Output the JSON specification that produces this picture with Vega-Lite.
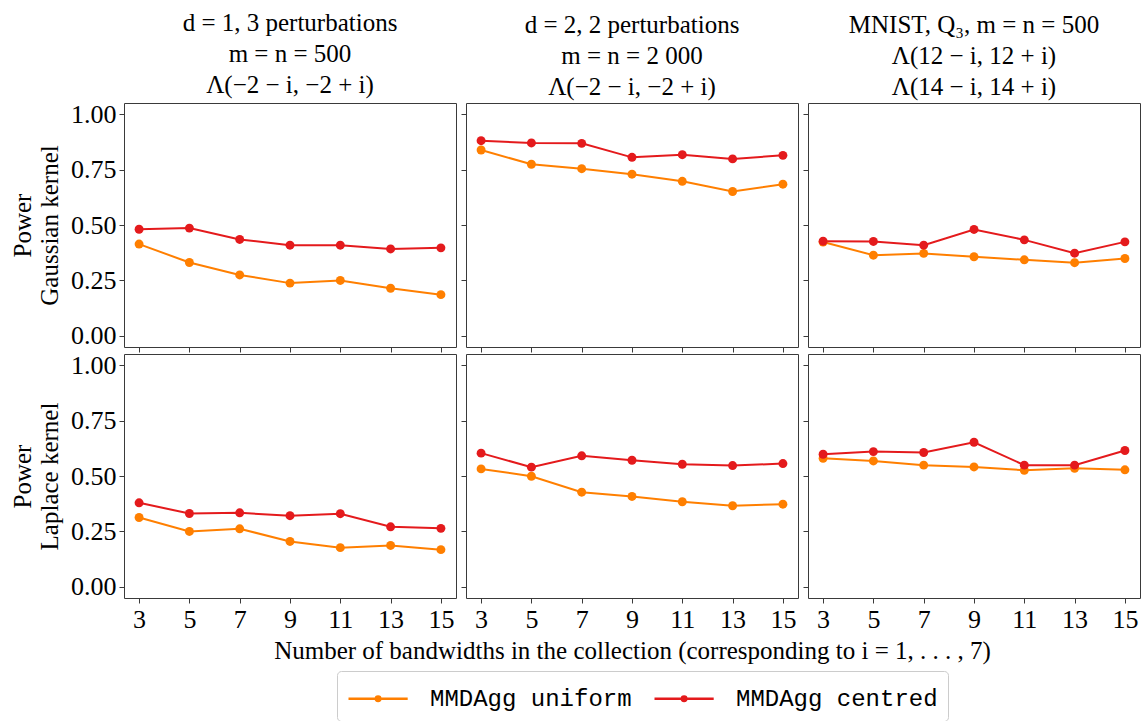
{
  "$schema": "https://vega.github.io/schema/vega-lite/v6.json",
  "padding": {"left": 10, "top": 10, "right": 0, "bottom": 0},
  "background": "white",
  "data": {"values": [
    {"setting":"d1","kernel":"Gaussian","method":"MMDAgg uniform","bandwidths":3,"power":0.414},
    {"setting":"d1","kernel":"Gaussian","method":"MMDAgg uniform","bandwidths":5,"power":0.331},
    {"setting":"d1","kernel":"Gaussian","method":"MMDAgg uniform","bandwidths":7,"power":0.275},
    {"setting":"d1","kernel":"Gaussian","method":"MMDAgg uniform","bandwidths":9,"power":0.238},
    {"setting":"d1","kernel":"Gaussian","method":"MMDAgg uniform","bandwidths":11,"power":0.250},
    {"setting":"d1","kernel":"Gaussian","method":"MMDAgg uniform","bandwidths":13,"power":0.215},
    {"setting":"d1","kernel":"Gaussian","method":"MMDAgg uniform","bandwidths":15,"power":0.186},
    {"setting":"d1","kernel":"Gaussian","method":"MMDAgg centred","bandwidths":3,"power":0.481},
    {"setting":"d1","kernel":"Gaussian","method":"MMDAgg centred","bandwidths":5,"power":0.486},
    {"setting":"d1","kernel":"Gaussian","method":"MMDAgg centred","bandwidths":7,"power":0.435},
    {"setting":"d1","kernel":"Gaussian","method":"MMDAgg centred","bandwidths":9,"power":0.409},
    {"setting":"d1","kernel":"Gaussian","method":"MMDAgg centred","bandwidths":11,"power":0.409},
    {"setting":"d1","kernel":"Gaussian","method":"MMDAgg centred","bandwidths":13,"power":0.392},
    {"setting":"d1","kernel":"Gaussian","method":"MMDAgg centred","bandwidths":15,"power":0.397},
    {"setting":"d2","kernel":"Gaussian","method":"MMDAgg uniform","bandwidths":3,"power":0.838},
    {"setting":"d2","kernel":"Gaussian","method":"MMDAgg uniform","bandwidths":5,"power":0.774},
    {"setting":"d2","kernel":"Gaussian","method":"MMDAgg uniform","bandwidths":7,"power":0.754},
    {"setting":"d2","kernel":"Gaussian","method":"MMDAgg uniform","bandwidths":9,"power":0.729},
    {"setting":"d2","kernel":"Gaussian","method":"MMDAgg uniform","bandwidths":11,"power":0.697},
    {"setting":"d2","kernel":"Gaussian","method":"MMDAgg uniform","bandwidths":13,"power":0.651},
    {"setting":"d2","kernel":"Gaussian","method":"MMDAgg uniform","bandwidths":15,"power":0.684},
    {"setting":"d2","kernel":"Gaussian","method":"MMDAgg centred","bandwidths":3,"power":0.880},
    {"setting":"d2","kernel":"Gaussian","method":"MMDAgg centred","bandwidths":5,"power":0.870},
    {"setting":"d2","kernel":"Gaussian","method":"MMDAgg centred","bandwidths":7,"power":0.868},
    {"setting":"d2","kernel":"Gaussian","method":"MMDAgg centred","bandwidths":9,"power":0.805},
    {"setting":"d2","kernel":"Gaussian","method":"MMDAgg centred","bandwidths":11,"power":0.817},
    {"setting":"d2","kernel":"Gaussian","method":"MMDAgg centred","bandwidths":13,"power":0.798},
    {"setting":"d2","kernel":"Gaussian","method":"MMDAgg centred","bandwidths":15,"power":0.814},
    {"setting":"mnist","kernel":"Gaussian","method":"MMDAgg uniform","bandwidths":3,"power":0.423},
    {"setting":"mnist","kernel":"Gaussian","method":"MMDAgg uniform","bandwidths":5,"power":0.364},
    {"setting":"mnist","kernel":"Gaussian","method":"MMDAgg uniform","bandwidths":7,"power":0.372},
    {"setting":"mnist","kernel":"Gaussian","method":"MMDAgg uniform","bandwidths":9,"power":0.357},
    {"setting":"mnist","kernel":"Gaussian","method":"MMDAgg uniform","bandwidths":11,"power":0.343},
    {"setting":"mnist","kernel":"Gaussian","method":"MMDAgg uniform","bandwidths":13,"power":0.330},
    {"setting":"mnist","kernel":"Gaussian","method":"MMDAgg uniform","bandwidths":15,"power":0.349},
    {"setting":"mnist","kernel":"Gaussian","method":"MMDAgg centred","bandwidths":3,"power":0.427},
    {"setting":"mnist","kernel":"Gaussian","method":"MMDAgg centred","bandwidths":5,"power":0.426},
    {"setting":"mnist","kernel":"Gaussian","method":"MMDAgg centred","bandwidths":7,"power":0.409},
    {"setting":"mnist","kernel":"Gaussian","method":"MMDAgg centred","bandwidths":9,"power":0.480},
    {"setting":"mnist","kernel":"Gaussian","method":"MMDAgg centred","bandwidths":11,"power":0.433},
    {"setting":"mnist","kernel":"Gaussian","method":"MMDAgg centred","bandwidths":13,"power":0.373},
    {"setting":"mnist","kernel":"Gaussian","method":"MMDAgg centred","bandwidths":15,"power":0.424},
    {"setting":"d1","kernel":"Laplace","method":"MMDAgg uniform","bandwidths":3,"power":0.313},
    {"setting":"d1","kernel":"Laplace","method":"MMDAgg uniform","bandwidths":5,"power":0.250},
    {"setting":"d1","kernel":"Laplace","method":"MMDAgg uniform","bandwidths":7,"power":0.262},
    {"setting":"d1","kernel":"Laplace","method":"MMDAgg uniform","bandwidths":9,"power":0.205},
    {"setting":"d1","kernel":"Laplace","method":"MMDAgg uniform","bandwidths":11,"power":0.177},
    {"setting":"d1","kernel":"Laplace","method":"MMDAgg uniform","bandwidths":13,"power":0.187},
    {"setting":"d1","kernel":"Laplace","method":"MMDAgg uniform","bandwidths":15,"power":0.168},
    {"setting":"d1","kernel":"Laplace","method":"MMDAgg centred","bandwidths":3,"power":0.379},
    {"setting":"d1","kernel":"Laplace","method":"MMDAgg centred","bandwidths":5,"power":0.331},
    {"setting":"d1","kernel":"Laplace","method":"MMDAgg centred","bandwidths":7,"power":0.334},
    {"setting":"d1","kernel":"Laplace","method":"MMDAgg centred","bandwidths":9,"power":0.321},
    {"setting":"d1","kernel":"Laplace","method":"MMDAgg centred","bandwidths":11,"power":0.330},
    {"setting":"d1","kernel":"Laplace","method":"MMDAgg centred","bandwidths":13,"power":0.271},
    {"setting":"d1","kernel":"Laplace","method":"MMDAgg centred","bandwidths":15,"power":0.264},
    {"setting":"d2","kernel":"Laplace","method":"MMDAgg uniform","bandwidths":3,"power":0.532},
    {"setting":"d2","kernel":"Laplace","method":"MMDAgg uniform","bandwidths":5,"power":0.499},
    {"setting":"d2","kernel":"Laplace","method":"MMDAgg uniform","bandwidths":7,"power":0.427},
    {"setting":"d2","kernel":"Laplace","method":"MMDAgg uniform","bandwidths":9,"power":0.408},
    {"setting":"d2","kernel":"Laplace","method":"MMDAgg uniform","bandwidths":11,"power":0.384},
    {"setting":"d2","kernel":"Laplace","method":"MMDAgg uniform","bandwidths":13,"power":0.366},
    {"setting":"d2","kernel":"Laplace","method":"MMDAgg uniform","bandwidths":15,"power":0.373},
    {"setting":"d2","kernel":"Laplace","method":"MMDAgg centred","bandwidths":3,"power":0.603},
    {"setting":"d2","kernel":"Laplace","method":"MMDAgg centred","bandwidths":5,"power":0.540},
    {"setting":"d2","kernel":"Laplace","method":"MMDAgg centred","bandwidths":7,"power":0.591},
    {"setting":"d2","kernel":"Laplace","method":"MMDAgg centred","bandwidths":9,"power":0.571},
    {"setting":"d2","kernel":"Laplace","method":"MMDAgg centred","bandwidths":11,"power":0.553},
    {"setting":"d2","kernel":"Laplace","method":"MMDAgg centred","bandwidths":13,"power":0.547},
    {"setting":"d2","kernel":"Laplace","method":"MMDAgg centred","bandwidths":15,"power":0.556},
    {"setting":"mnist","kernel":"Laplace","method":"MMDAgg uniform","bandwidths":3,"power":0.580},
    {"setting":"mnist","kernel":"Laplace","method":"MMDAgg uniform","bandwidths":5,"power":0.568},
    {"setting":"mnist","kernel":"Laplace","method":"MMDAgg uniform","bandwidths":7,"power":0.549},
    {"setting":"mnist","kernel":"Laplace","method":"MMDAgg uniform","bandwidths":9,"power":0.541},
    {"setting":"mnist","kernel":"Laplace","method":"MMDAgg uniform","bandwidths":11,"power":0.526},
    {"setting":"mnist","kernel":"Laplace","method":"MMDAgg uniform","bandwidths":13,"power":0.535},
    {"setting":"mnist","kernel":"Laplace","method":"MMDAgg uniform","bandwidths":15,"power":0.528},
    {"setting":"mnist","kernel":"Laplace","method":"MMDAgg centred","bandwidths":3,"power":0.598},
    {"setting":"mnist","kernel":"Laplace","method":"MMDAgg centred","bandwidths":5,"power":0.610},
    {"setting":"mnist","kernel":"Laplace","method":"MMDAgg centred","bandwidths":7,"power":0.606},
    {"setting":"mnist","kernel":"Laplace","method":"MMDAgg centred","bandwidths":9,"power":0.652},
    {"setting":"mnist","kernel":"Laplace","method":"MMDAgg centred","bandwidths":11,"power":0.549},
    {"setting":"mnist","kernel":"Laplace","method":"MMDAgg centred","bandwidths":13,"power":0.549},
    {"setting":"mnist","kernel":"Laplace","method":"MMDAgg centred","bandwidths":15,"power":0.615}
  ]},
  "columns": 3,
  "spacing": {"row": 7, "column": 10},
  "bounds": "flush",
  "concat": [
    {
      "title": {"text": ["d = 1, 3 perturbations", "m = n = 500", "Λ(−2 − i, −2 + i)"]},
      "width": 332, "height": 244,
      "transform": [{"filter": "datum.setting == 'd1' && datum.kernel == 'Gaussian'"}],
      "encoding": {
        "x": {"field": "bandwidths", "type": "quantitative", "scale": {"domain": [2.4, 15.6], "nice": false, "zero": false}, "axis": {"values": [3,5,7,9,11,13,15], "labels": false, "title": null}},
        "y": {"field": "power", "type": "quantitative", "scale": {"domain": [-0.05, 1.05], "nice": false, "zero": false}, "axis": {"values": [0,0.25,0.5,0.75,1], "format": ".2f", "title": ["Power", "Gaussian kernel"]}},
        "color": {"field": "method", "type": "nominal", "scale": {"domain": ["MMDAgg uniform", "MMDAgg centred"], "range": ["#ff7f00", "#e41a1c"]}, "legend": {"title": null, "orient": "none", "legendX": 213, "legendY": 568, "direction": "horizontal"}}
      },
      "layer": [
        {"mark": {"type": "line", "strokeWidth": 2}},
        {"mark": {"type": "point", "filled": true, "size": 80, "opacity": 1}}
      ]
    },
    {
      "title": {"text": ["d = 2, 2 perturbations", "m = n = 2 000", "Λ(−2 − i, −2 + i)"]},
      "width": 332, "height": 244,
      "transform": [{"filter": "datum.setting == 'd2' && datum.kernel == 'Gaussian'"}],
      "encoding": {
        "x": {"field": "bandwidths", "type": "quantitative", "scale": {"domain": [2.4, 15.6], "nice": false, "zero": false}, "axis": {"values": [3,5,7,9,11,13,15], "labels": false, "title": null}},
        "y": {"field": "power", "type": "quantitative", "scale": {"domain": [-0.05, 1.05], "nice": false, "zero": false}, "axis": {"values": [0,0.25,0.5,0.75,1], "labels": false, "title": null}},
        "color": {"field": "method", "type": "nominal", "scale": {"domain": ["MMDAgg uniform", "MMDAgg centred"], "range": ["#ff7f00", "#e41a1c"]}, "legend": {"title": null, "orient": "none", "legendX": 213, "legendY": 568, "direction": "horizontal"}}
      },
      "layer": [
        {"mark": {"type": "line", "strokeWidth": 2}},
        {"mark": {"type": "point", "filled": true, "size": 80, "opacity": 1}}
      ]
    },
    {
      "title": {"text": ["MNIST, Q₃, m = n = 500", "Λ(12 − i, 12 + i)", "Λ(14 − i, 14 + i)"]},
      "width": 332, "height": 244,
      "transform": [{"filter": "datum.setting == 'mnist' && datum.kernel == 'Gaussian'"}],
      "encoding": {
        "x": {"field": "bandwidths", "type": "quantitative", "scale": {"domain": [2.4, 15.6], "nice": false, "zero": false}, "axis": {"values": [3,5,7,9,11,13,15], "labels": false, "title": null}},
        "y": {"field": "power", "type": "quantitative", "scale": {"domain": [-0.05, 1.05], "nice": false, "zero": false}, "axis": {"values": [0,0.25,0.5,0.75,1], "labels": false, "title": null}},
        "color": {"field": "method", "type": "nominal", "scale": {"domain": ["MMDAgg uniform", "MMDAgg centred"], "range": ["#ff7f00", "#e41a1c"]}, "legend": {"title": null, "orient": "none", "legendX": 213, "legendY": 568, "direction": "horizontal"}}
      },
      "layer": [
        {"mark": {"type": "line", "strokeWidth": 2}},
        {"mark": {"type": "point", "filled": true, "size": 80, "opacity": 1}}
      ]
    },
    {
      "width": 332, "height": 244,
      "transform": [{"filter": "datum.setting == 'd1' && datum.kernel == 'Laplace'"}],
      "encoding": {
        "x": {"field": "bandwidths", "type": "quantitative", "scale": {"domain": [2.4, 15.6], "nice": false, "zero": false}, "axis": {"values": [3,5,7,9,11,13,15], "title": null}},
        "y": {"field": "power", "type": "quantitative", "scale": {"domain": [-0.05, 1.05], "nice": false, "zero": false}, "axis": {"values": [0,0.25,0.5,0.75,1], "format": ".2f", "title": ["Power", "Laplace kernel"]}},
        "color": {"field": "method", "type": "nominal", "scale": {"domain": ["MMDAgg uniform", "MMDAgg centred"], "range": ["#ff7f00", "#e41a1c"]}, "legend": {"title": null, "orient": "none", "legendX": 213, "legendY": 568, "direction": "horizontal"}}
      },
      "layer": [
        {"mark": {"type": "line", "strokeWidth": 2}},
        {"mark": {"type": "point", "filled": true, "size": 80, "opacity": 1}}
      ]
    },
    {
      "width": 332, "height": 244,
      "transform": [{"filter": "datum.setting == 'd2' && datum.kernel == 'Laplace'"}],
      "encoding": {
        "x": {"field": "bandwidths", "type": "quantitative", "scale": {"domain": [2.4, 15.6], "nice": false, "zero": false}, "axis": {"values": [3,5,7,9,11,13,15], "title": "Number of bandwidths in the collection (corresponding to i = 1, . . . , 7)"}},
        "y": {"field": "power", "type": "quantitative", "scale": {"domain": [-0.05, 1.05], "nice": false, "zero": false}, "axis": {"values": [0,0.25,0.5,0.75,1], "labels": false, "title": null}},
        "color": {"field": "method", "type": "nominal", "scale": {"domain": ["MMDAgg uniform", "MMDAgg centred"], "range": ["#ff7f00", "#e41a1c"]}, "legend": {"title": null, "orient": "none", "legendX": 213, "legendY": 568, "direction": "horizontal"}}
      },
      "layer": [
        {"mark": {"type": "line", "strokeWidth": 2}},
        {"mark": {"type": "point", "filled": true, "size": 80, "opacity": 1}}
      ]
    },
    {
      "width": 332, "height": 244,
      "transform": [{"filter": "datum.setting == 'mnist' && datum.kernel == 'Laplace'"}],
      "encoding": {
        "x": {"field": "bandwidths", "type": "quantitative", "scale": {"domain": [2.4, 15.6], "nice": false, "zero": false}, "axis": {"values": [3,5,7,9,11,13,15], "title": null}},
        "y": {"field": "power", "type": "quantitative", "scale": {"domain": [-0.05, 1.05], "nice": false, "zero": false}, "axis": {"values": [0,0.25,0.5,0.75,1], "labels": false, "title": null}},
        "color": {"field": "method", "type": "nominal", "scale": {"domain": ["MMDAgg uniform", "MMDAgg centred"], "range": ["#ff7f00", "#e41a1c"]}, "legend": {"title": null, "orient": "none", "legendX": 213, "legendY": 568, "direction": "horizontal"}}
      },
      "layer": [
        {"mark": {"type": "line", "strokeWidth": 2}},
        {"mark": {"type": "point", "filled": true, "size": 80, "opacity": 1}}
      ]
    }
  ],
  "config": {
    "font": "Liberation Serif",
    "view": {"stroke": "#3a3a3a", "strokeWidth": 1},
    "title": {"font": "Liberation Serif", "fontSize": 25, "fontWeight": "normal", "color": "black", "lineHeight": 31, "offset": 3, "anchor": "middle"},
    "axis": {
      "domain": false, "grid": false, "ticks": true, "tickColor": "#3a3a3a", "tickSize": 5, "tickWidth": 1,
      "labelFont": "Liberation Serif", "labelFontSize": 26, "labelColor": "black", "labelPadding": 3,
      "titleFont": "Liberation Serif", "titleFontSize": 25, "titleFontWeight": "normal", "titleColor": "black",
      "labelOverlap": false, "labelFlush": false
    },
    "axisY": {"titlePadding": 8, "titleLineHeight": 27},
    "axisX": {"titlePadding": 6},
    "legend": {
      "labelFont": "Liberation Mono", "labelFontSize": 24, "labelColor": "black", "labelLimit": 0,
      "strokeColor": "#cccccc", "cornerRadius": 4, "padding": 10,
      "symbolType": "M-1,0H2.7M0.71,0a0.14,0.14 0 1,0 0.28,0a0.14,0.14 0 1,0 -0.28,0",
      "symbolSize": 1024, "symbolStrokeWidth": 2.5, "columnPadding": 17, "labelOffset": 48
    }
  }
}
